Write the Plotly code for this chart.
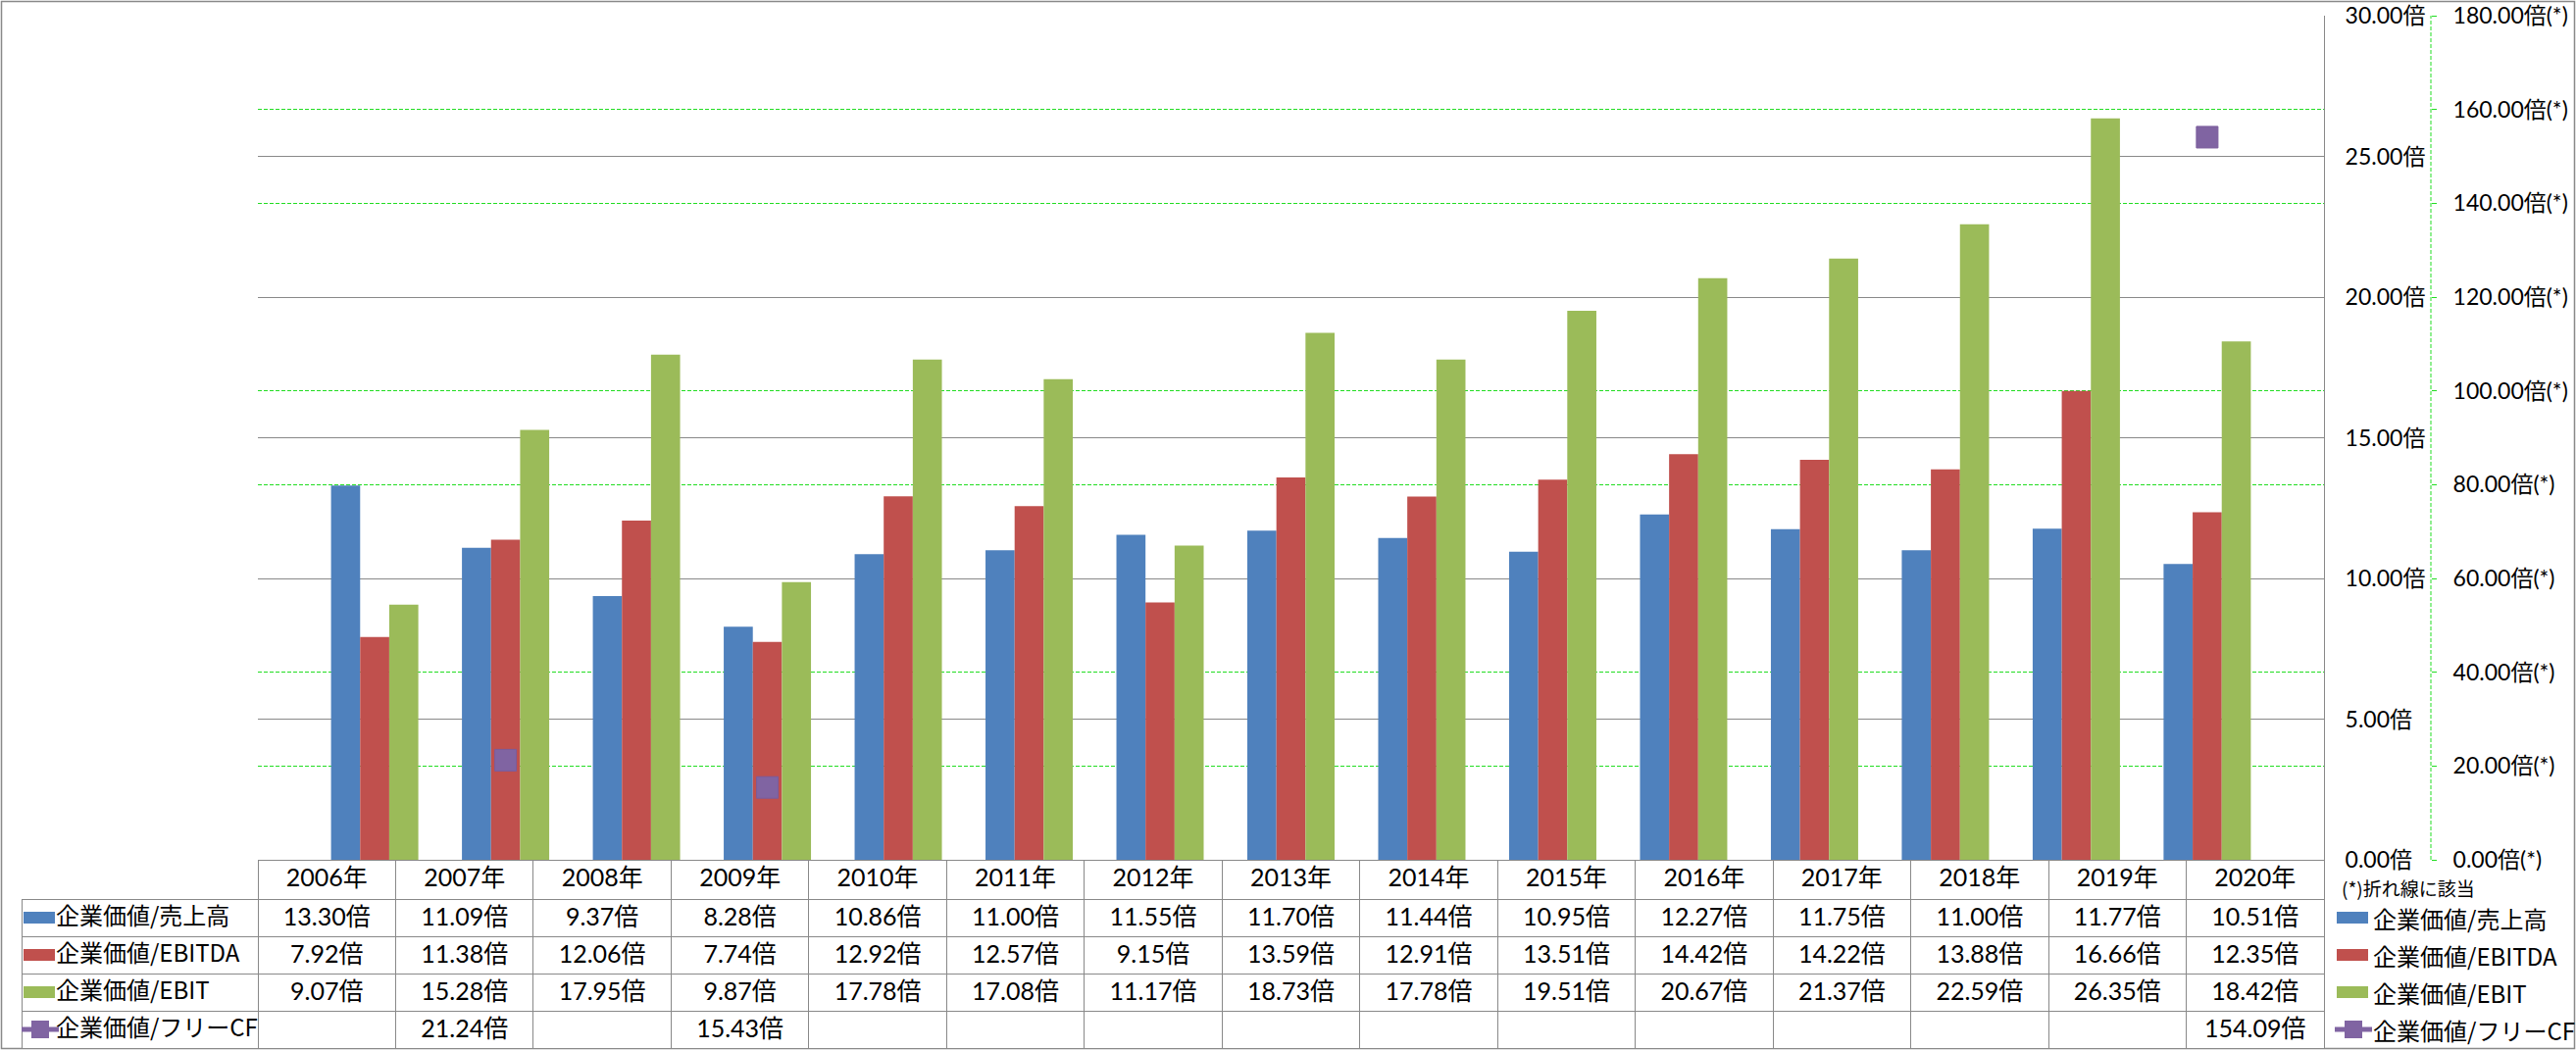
import plotly.graph_objects as go

# ---------------- data ----------------
years = ["2006年", "2007年", "2008年", "2009年", "2010年", "2011年", "2012年", "2013年",
         "2014年", "2015年", "2016年", "2017年", "2018年", "2019年", "2020年"]
ev_sales = [13.30, 11.09, 9.37, 8.28, 10.86, 11.00, 11.55, 11.70, 11.44, 10.95, 12.27, 11.75, 11.00, 11.77, 10.51]
ev_ebitda = [7.92, 11.38, 12.06, 7.74, 12.92, 12.57, 9.15, 13.59, 12.91, 13.51, 14.42, 14.22, 13.88, 16.66, 12.35]
ev_ebit = [9.07, 15.28, 17.95, 9.87, 17.78, 17.08, 11.17, 18.73, 17.78, 19.51, 20.67, 21.37, 22.59, 26.35, 18.42]
ev_fcf = [None, 21.24, None, 15.43, None, None, None, None, None, None, None, None, None, None, 154.09]
series_names = ["企業価値/売上高", "企業価値/EBITDA", "企業価値/EBIT", "企業価値/フリーCF"]

primary_tickvals = [0, 5, 10, 15, 20, 25, 30]
primary_ticktext = ["0.00倍", "5.00倍", "10.00倍", "15.00倍", "20.00倍", "25.00倍", "30.00倍"]
secondary_tickvals = [0, 20, 40, 60, 80, 100, 120, 140, 160, 180]
secondary_ticktext = ["0.00倍(*)", "20.00倍(*)", "40.00倍(*)", "60.00倍(*)", "80.00倍(*)",
                      "100.00倍(*)", "120.00倍(*)", "140.00倍(*)", "160.00倍(*)", "180.00倍(*)"]
note_text = "(*)折れ線に該当"

# ---------------- style ----------------
W, H = 2627, 1071
FONT = "Lato, 'Noto Sans CJK JP', sans-serif"
LEG_FONT = "'Noto Sans CJK JP', sans-serif"
BLUE, RED, GREEN, PURPLE = "#4F81BD", "#C0504D", "#9BBB59", "#8064A2"
GRAY = "#898989"
LIME = "#22DD22"
colors = [BLUE, RED, GREEN, PURPLE]


def fx(px):
    return px / W


def fy(py):
    return 1 - py / H


PLOT_L, PLOT_R, PLOT_T, PLOT_B = 263, 2370, 16, 877
TABLE_L, TABLE_B = 22, 1070
HEADER_H, ROW_H = 40, 38
row_centers = [PLOT_B + HEADER_H + ROW_H * (i + 0.5) for i in range(4)]

fig = go.Figure()

for name, vals, col in zip(series_names[:3], [ev_sales, ev_ebitda, ev_ebit], colors[:3]):
    fig.add_trace(go.Bar(x=years, y=vals, name=name, marker=dict(color=col, line=dict(width=0)),
                         yaxis="y", showlegend=False))

fig.add_trace(go.Scatter(x=years, y=ev_fcf, name=series_names[3], mode="lines+markers",
                         connectgaps=False, yaxis="y2", showlegend=False,
                         line=dict(color=PURPLE, width=4),
                         marker=dict(symbol="square", size=22, color=PURPLE,
                                     line=dict(color="#7A5C9C", width=1))))

# helper trace for gray gridline axis
fig.add_trace(go.Scatter(x=[years[0]], y=[None], yaxis="y3", showlegend=False, hoverinfo="skip"))


def fmt(v):
    return "" if v is None else f"{v:.2f}倍"


pad = "\u00a0" * 5
legend_col = [pad + n for n in series_names]
table_cols = [legend_col] + [[fmt(s[i]) for s in (ev_sales, ev_ebitda, ev_ebit, ev_fcf)] for i in range(len(years))]
col_w = (PLOT_R - PLOT_L) / len(years)

fig.add_trace(go.Table(
    domain=dict(x=[fx(TABLE_L), fx(PLOT_R)], y=[fy(TABLE_B), fy(PLOT_B)]),
    columnwidth=[PLOT_L - TABLE_L] + [col_w] * len(years),
    header=dict(values=[""] + years, height=HEADER_H, align="center",
                fill=dict(color=["rgba(0,0,0,0)"] + ["white"] * len(years)),
                line=dict(color=["rgba(0,0,0,0)"] + [GRAY] * len(years), width=1),
                font=dict(size=25, color="black", family=FONT)),
    cells=dict(values=table_cols, height=ROW_H, align=["left"] + ["center"] * len(years),
               fill=dict(color="white"), line=dict(color=GRAY, width=1),
               font=dict(size=[24] + [25] * len(years), color="black",
                         family=[LEG_FONT] + [FONT] * len(years))),
))

shapes = []
annotations = []

# outer chart border
shapes.append(dict(type="rect", xref="paper", yref="paper", x0=fx(1.5), x1=fx(2625.5), y0=fy(1069.5), y1=fy(1.5),
                   line=dict(color=GRAY, width=1.5), fillcolor="rgba(0,0,0,0)", layer="below"))
# dashed secondary axis line
shapes.append(dict(type="line", xref="paper", yref="y2", x0=fx(2479), x1=fx(2479), y0=0, y1=180,
                   line=dict(color=LIME, width=1, dash="4px,2px")))


def swatches(x0, rc):
    for i, c in enumerate(colors):
        yc = rc[i]
        if i < 3:
            shapes.append(dict(type="rect", xref="paper", yref="paper", x0=fx(x0), x1=fx(x0 + 32),
                               y0=fy(yc + 6), y1=fy(yc - 6), fillcolor=c, line=dict(width=0)))
        else:
            shapes.append(dict(type="line", xref="paper", yref="paper", x0=fx(x0 - 2), x1=fx(x0 + 36),
                               y0=fy(yc), y1=fy(yc), line=dict(color=c, width=5)))
            shapes.append(dict(type="rect", xref="paper", yref="paper", x0=fx(x0 + 8), x1=fx(x0 + 26),
                               y0=fy(yc + 9), y1=fy(yc - 9), fillcolor=c, line=dict(width=0)))


swatches(24, row_centers)
swatches(2383, row_centers)

for i, n in enumerate(series_names):
    annotations.append(dict(xref="paper", yref="paper", x=fx(2418), y=fy(row_centers[i]), text=n,
                            showarrow=False, xanchor="left", yanchor="middle",
                            font=dict(size=24, color="black", family=LEG_FONT)))
annotations.append(dict(xref="paper", yref="paper", x=fx(2386), y=fy(905), text=note_text,
                        showarrow=False, xanchor="left", yanchor="middle",
                        font=dict(size=19, color="black", family=LEG_FONT)))

fig.update_layout(
    width=W, height=H,
    margin=dict(l=0, r=0, t=0, b=0, autoexpand=False),
    paper_bgcolor="white", plot_bgcolor="rgba(0,0,0,0)",
    font=dict(family=FONT, color="black"),
    barmode="group", bargap=1 / 3, bargroupgap=0,
    showlegend=False,
    xaxis=dict(domain=[fx(PLOT_L), fx(PLOT_R)], type="category", showticklabels=False, ticks="",
               showline=True, linecolor=GRAY, linewidth=1, showgrid=False, zeroline=False,
               automargin=False),
    yaxis=dict(domain=[fy(PLOT_B), fy(PLOT_T)], range=[0, 30], side="right", anchor="x",
               tickvals=primary_tickvals, ticktext=primary_ticktext, ticks="",
               ticklabelstandoff=16, ticklabeloverflow="allow", showline=True, linecolor=GRAY, linewidth=1,
               showgrid=False, zeroline=False, automargin=False,
               tickfont=dict(size=23, color="black", family=FONT)),
    yaxis2=dict(range=[0, 180], overlaying="y", side="right", anchor="free", position=fx(2479),
                tickvals=secondary_tickvals, ticktext=secondary_ticktext,
                ticks="outside", ticklen=5, tickcolor=LIME, tickwidth=1, ticklabelstandoff=12,
                ticklabeloverflow="allow",
                showline=False, showgrid=True, gridcolor=LIME, gridwidth=1, griddash="4px,2px",
                zeroline=False, automargin=False,
                tickfont=dict(size=23, color="black", family=FONT)),
    yaxis3=dict(range=[0, 30], overlaying="y", side="right", anchor="x", tickvals=primary_tickvals,
                showticklabels=False, ticks="", showline=False, showgrid=True, gridcolor=GRAY,
                gridwidth=1, zeroline=False, automargin=False),
    shapes=shapes,
    annotations=annotations,
)

fig.write_html("out.html")
